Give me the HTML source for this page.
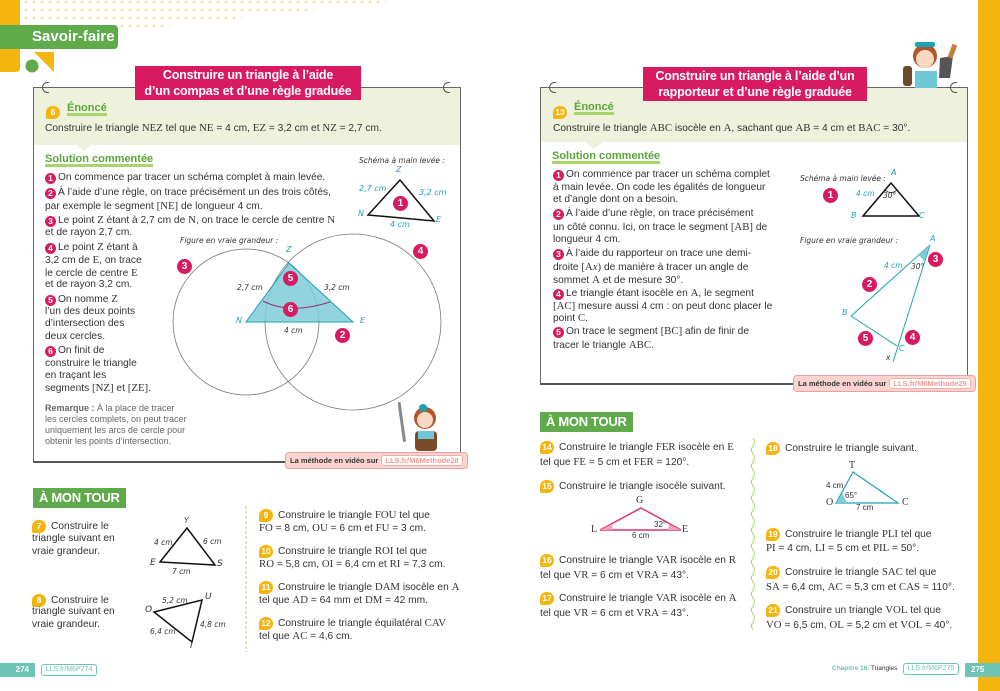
<!DOCTYPE html>
<html><head><meta charset="utf-8">
<style>
*{margin:0;padding:0;box-sizing:border-box}
body{width:1000px;height:691px;position:relative;background:#fff;overflow:hidden;font-family:"Liberation Sans",sans-serif;color:#333}
.a{position:absolute}
.t{position:absolute;font-size:10.2px;line-height:12px;white-space:nowrap;color:#333}
.m{font-family:"Liberation Serif",serif;font-size:10.8px}
.b{display:inline-block;width:11px;height:11px;border-radius:50%;background:#d81b60;color:#fff;font-size:8.5px;font-weight:bold;text-align:center;line-height:11px;vertical-align:-1px;margin-right:2px}
.bb{position:absolute;width:15px;height:15px;border-radius:50%;background:#d81b60;color:#fff;font-size:10px;font-weight:bold;text-align:center;line-height:15px}
.y{display:inline-block;min-width:14px;height:13px;padding:0 2px;border-radius:7px 7px 7px 2px;background:#f5b50f;color:#fff;font-size:8.5px;font-weight:bold;text-align:center;line-height:13px;margin-right:5px;vertical-align:0px}
.panel{position:absolute;border:1px solid #666;border-bottom:2px solid #555;background:#fff}
.top{position:absolute;left:0;right:0;top:0;background:#eef2dc}
.banner{position:absolute;background:#d81b60;color:#fff;font-weight:bold;font-size:12.5px;line-height:15.5px;text-align:center;padding-top:2px;white-space:nowrap;letter-spacing:-0.2px}
.en{position:absolute;color:#5aa63a;font-weight:bold;font-size:11px;border-bottom:3px solid #a9d46b;line-height:10px}
.sol{position:absolute;color:#5aa63a;font-weight:bold;font-size:11px;border-bottom:3px solid #a9d46b;line-height:10px}
.hand{position:absolute;font-style:italic;font-size:7.5px;color:#333;white-space:nowrap;font-family:"DejaVu Sans",sans-serif}
.cy{color:#1ba3b5;font-style:italic;font-size:8px;position:absolute;font-family:"DejaVu Sans",sans-serif}
.vid{position:absolute;background:#fbd3d0;border:1px solid #f0a09a;border-radius:4px;font-size:7.5px;font-weight:bold;color:#333;padding:3px 4px;white-space:nowrap}
.vid span{background:#fff;color:#f29a95;border:1px solid #f0b0aa;border-radius:3px;padding:0 3px;font-weight:bold;margin-left:3px}
.mt{position:absolute;background:#5faa4a;color:#fff;font-weight:bold;font-size:13px;line-height:20px;padding:0 6px;letter-spacing:-0.3px}
.lbl{position:absolute;font-size:7.5px;font-style:italic;font-family:"DejaVu Sans",sans-serif;color:#333}
.ring{position:absolute;width:7px;height:11px;border:1.5px solid #555;border-right:none;border-radius:6px 0 0 6px}
</style></head><body>

<div class="a" style="left:0;top:0;width:20px;height:72px;background:#f5b50f;border-radius:0 0 4px 0"></div>
<svg class="a" style="left:0;top:0" width="400" height="80">
<defs><pattern id="dt" width="8" height="8" patternUnits="userSpaceOnUse"><circle cx="2" cy="2" r="1" fill="#f7c54a"/></pattern></defs>
<polygon points="22,0 400,0 130,30 22,30" fill="url(#dt)"/>
<polygon points="34,52 54,52 54,72" fill="#f5b50f"/>
<circle cx="32" cy="66" r="6.5" fill="#5faa4a"/>
</svg>
<div class="a" style="left:0;top:25px;width:118px;height:24px;background:#5faa4a;border-radius:0 4px 4px 0;color:#fff;font-weight:bold;font-size:15px;line-height:24px;padding-left:32px">Savoir-faire</div>

<div class="a" style="left:978px;top:0;width:22px;height:691px;background:#f5b50f"></div>

<!-- LEFT PANEL -->
<div class="panel" style="left:33px;top:87px;width:428px;height:376px">
 <div class="top" style="height:57px"></div>
</div>
<svg class="a" style="left:60px;top:143px" width="40" height="10"><polygon points="14,0 34,0 24,8" fill="#eef2dc"/></svg>
<div class="ring" style="left:42px;top:82px"></div>
<div class="ring" style="left:443px;top:82px"></div>
<div class="banner" style="left:135px;top:66px;width:226px;height:34px">Construire un triangle à l’aide<br>d’un compas et d’une règle graduée</div>
<div class="a" style="left:46px;top:102px"><span class="y">6</span></div>
<div class="en" style="left:67px;top:103px">Énoncé</div>
<div class="t" style="left:45px;top:122px">Construire le triangle <span class="m">NEZ</span> tel que <span class="m">NE</span> = 4 cm, <span class="m">EZ</span> = 3,2 cm et <span class="m">NZ</span> = 2,7 cm.</div>
<div class="sol" style="left:45px;top:154px">Solution commentée</div>

<div class="t" style="left:45px;top:172px"><span class="b">1</span>On commence par tracer un schéma complet à main levée.</div>
<div class="t" style="left:45px;top:187px"><span class="b">2</span>À l’aide d’une règle, on trace précisément un des trois côtés,</div>
<div class="t" style="left:45px;top:200px">par exemple le segment <span class="m">[NE]</span> de longueur 4 cm.</div>
<div class="t" style="left:45px;top:214px"><span class="b">3</span>Le point <span class="m">Z</span> étant à 2,7 cm de <span class="m">N</span>, on trace le cercle de centre <span class="m">N</span></div>
<div class="t" style="left:45px;top:227px">et de rayon 2,7 cm.</div>
<div class="t" style="left:45px;top:241px"><span class="b">4</span>Le point <span class="m">Z</span> étant à</div>
<div class="t" style="left:45px;top:254px">3,2 cm de <span class="m">E</span>, on trace</div>
<div class="t" style="left:45px;top:267px">le cercle de centre <span class="m">E</span></div>
<div class="t" style="left:45px;top:279px">et de rayon 3,2 cm.</div>
<div class="t" style="left:45px;top:293px"><span class="b">5</span>On nomme <span class="m">Z</span></div>
<div class="t" style="left:45px;top:306px">l’un des deux points</div>
<div class="t" style="left:45px;top:318px">d’intersection des</div>
<div class="t" style="left:45px;top:331px">deux cercles.</div>
<div class="t" style="left:45px;top:345px"><span class="b">6</span>On finit de</div>
<div class="t" style="left:45px;top:358px">construire le triangle</div>
<div class="t" style="left:45px;top:370px">en traçant les</div>
<div class="t" style="left:45px;top:382px">segments <span class="m">[NZ]</span> et <span class="m">[ZE]</span>.</div>
<div class="t" style="left:45px;top:402px;font-size:9px;color:#666"><b>Remarque :</b> À la place de tracer</div>
<div class="t" style="left:45px;top:413px;font-size:9px;color:#666">les cercles complets, on peut tracer</div>
<div class="t" style="left:45px;top:424px;font-size:9px;color:#666">uniquement les arcs de cercle pour</div>
<div class="t" style="left:45px;top:435px;font-size:9px;color:#666">obtenir les points d’intersection.</div>

<div class="hand" style="left:359px;top:156px">Schéma à main levée :</div>
<svg class="a" style="left:0;top:0" width="500" height="480">
<polygon points="368,215 400,180 434,221" fill="none" stroke="#111" stroke-width="1.5"/>
<circle cx="246" cy="322" r="73" fill="none" stroke="#777" stroke-width="0.8"/>
<circle cx="353" cy="322" r="88" fill="none" stroke="#777" stroke-width="0.8"/>
<polygon points="246,322 353,322 289,263" fill="#7fcbd8" fill-opacity="0.85" stroke="#1ba3b5" stroke-width="1"/>
<path d="M263,301 Q290,315 330,302" fill="none" stroke="#9b2f7a" stroke-width="1"/>
</svg>
<div class="cy" style="left:396px;top:165px">Z</div>
<div class="cy" style="left:359px;top:184px">2,7 cm</div>
<div class="cy" style="left:419px;top:188px">3,2 cm</div>
<div class="cy" style="left:358px;top:209px">N</div>
<div class="cy" style="left:436px;top:215px">E</div>
<div class="cy" style="left:390px;top:220px">4 cm</div>
<div class="bb" style="left:393px;top:196px">1</div>
<div class="hand" style="left:180px;top:236px">Figure en vraie grandeur :</div>
<div class="cy" style="left:286px;top:245px">Z</div>
<div class="cy" style="left:236px;top:316px">N</div>
<div class="cy" style="left:360px;top:316px">E</div>
<div class="lbl" style="left:237px;top:283px">2,7 cm</div>
<div class="lbl" style="left:324px;top:283px">3,2 cm</div>
<div class="lbl" style="left:284px;top:326px">4 cm</div>
<div class="bb" style="left:177px;top:259px">3</div>
<div class="bb" style="left:413px;top:244px">4</div>
<div class="bb" style="left:283px;top:271px">5</div>
<div class="bb" style="left:283px;top:302px">6</div>
<div class="bb" style="left:335px;top:328px">2</div>
<svg class="a" style="left:398px;top:400px" width="55" height="55">
<rect x="2" y="2" width="3" height="40" fill="#888" transform="rotate(-8 3 20)"/>
<circle cx="27" cy="18" r="11" fill="#b0562c"/>
<circle cx="27" cy="20" r="8" fill="#f7d8c0"/>
<circle cx="25" cy="8" r="4" fill="#1ba3b5"/>
<rect x="17" y="31" width="22" height="20" rx="4" fill="#7a4a2a"/>
<rect x="20" y="31" width="16" height="8" fill="#6ec6d6"/>
</svg>
<div class="vid" style="left:285px;top:452px">La méthode en vidéo sur<span>LLS.fr/M6Methode28</span></div>

<div class="mt" style="left:33px;top:488px">À MON TOUR</div>
<div class="t" style="left:32px;top:520px"><span class="y">7</span>Construire le</div>
<div class="t" style="left:32px;top:533px">triangle suivant en</div>
<div class="t" style="left:32px;top:546px">vraie grandeur.</div>
<div class="t" style="left:32px;top:594px"><span class="y">8</span>Construire le</div>
<div class="t" style="left:32px;top:606px">triangle suivant en</div>
<div class="t" style="left:32px;top:619px">vraie grandeur.</div>
<svg class="a" style="left:0;top:480px" width="260" height="180">
<polygon points="187,48 160,82 215,85" fill="none" stroke="#111" stroke-width="1.5"/>
<polygon points="154,132 202,120 192,162" fill="none" stroke="#111" stroke-width="1.5"/>
<line x1="246" y1="26" x2="246" y2="172" stroke="#a9d46b" stroke-width="1" stroke-dasharray="3,2"/>
</svg>
<div class="lbl" style="left:184px;top:516px">Y</div>
<div class="lbl" style="left:154px;top:538px">4 cm</div>
<div class="lbl" style="left:203px;top:537px">6 cm</div>
<div class="lbl" style="left:150px;top:558px;font-size:9px">E</div>
<div class="lbl" style="left:217px;top:559px;font-size:9px">S</div>
<div class="lbl" style="left:172px;top:567px">7 cm</div>
<div class="lbl" style="left:162px;top:596px">5,2 cm</div>
<div class="lbl" style="left:205px;top:592px;font-size:9px">U</div>
<div class="lbl" style="left:145px;top:605px;font-size:9px">O</div>
<div class="lbl" style="left:200px;top:620px">4,8 cm</div>
<div class="lbl" style="left:150px;top:627px">6,4 cm</div>
<div class="lbl" style="left:190px;top:641px;font-size:9px">I</div>

<div class="t" style="left:259px;top:509px"><span class="y">9</span>Construire le triangle <span class="m">FOU</span> tel que</div>
<div class="t" style="left:259px;top:522px"><span class="m">FO</span> = 8 cm, <span class="m">OU</span> = 6 cm et <span class="m">FU</span> = 3 cm.</div>
<div class="t" style="left:259px;top:545px"><span class="y">10</span>Construire le triangle <span class="m">ROI</span> tel que</div>
<div class="t" style="left:259px;top:558px"><span class="m">RO</span> = 5,8 cm, <span class="m">OI</span> = 6,4 cm et <span class="m">RI</span> = 7,3 cm.</div>
<div class="t" style="left:259px;top:581px"><span class="y">11</span>Construire le triangle <span class="m">DAM</span> isocèle en <span class="m">A</span></div>
<div class="t" style="left:259px;top:594px">tel que <span class="m">AD</span> = 64 mm et <span class="m">DM</span> = 42 mm.</div>
<div class="t" style="left:259px;top:617px"><span class="y">12</span>Construire le triangle équilatéral <span class="m">CAV</span></div>
<div class="t" style="left:259px;top:630px">tel que <span class="m">AC</span> = 4,6 cm.</div>

<div class="a" style="left:0;top:663px;width:35px;height:14px;background:#6cc4b4;color:#fff;font-size:8px;font-weight:bold;line-height:14px;text-align:right;padding-right:6px">274</div>
<div class="a" style="left:41px;top:664px;width:56px;height:12px;border:1px solid #6cc4b4;border-radius:3px;color:#6cc4b4;font-size:7px;line-height:10px;text-align:center">LLS.fr/M6P274</div>

<!-- RIGHT PANEL -->
<div class="panel" style="left:540px;top:87px;width:428px;height:298px">
 <div class="top" style="height:54px"></div>
</div>
<svg class="a" style="left:570px;top:141px" width="40" height="10"><polygon points="14,0 34,0 24,8" fill="#eef2dc"/></svg>
<div class="ring" style="left:549px;top:82px"></div>
<div class="ring" style="left:950px;top:82px"></div>
<div class="banner" style="left:643px;top:67px;width:224px;height:34px">Construire un triangle à l’aide d’un<br>rapporteur et d’une règle graduée</div>
<svg class="a" style="left:895px;top:38px" width="70" height="50">
<circle cx="30" cy="18" r="12" fill="#b0562c"/>
<circle cx="30" cy="21" r="9" fill="#f7d8c0"/>
<rect x="20" y="4" width="20" height="5" rx="2" fill="#1ba3b5"/>
<rect x="20" y="33" width="22" height="17" fill="#6ec6d6"/>
<polygon points="45,20 58,18 55,40 44,40" fill="#555"/>
<rect x="55" y="6" width="5" height="14" fill="#c08040" transform="rotate(20 57 13)"/>
<rect x="8" y="28" width="9" height="20" rx="3" fill="#6a4a2a"/>
</svg>
<div class="a" style="left:553px;top:102px"><span class="y">13</span></div>
<div class="en" style="left:574px;top:102px">Énoncé</div>
<div class="t" style="left:553px;top:122px">Construire le triangle <span class="m">ABC</span> isocèle en <span class="m">A</span>, sachant que <span class="m">AB</span> = 4 cm et <span class="m">BAC</span> = 30°.</div>
<div class="sol" style="left:552px;top:151px">Solution commentée</div>
<div class="t" style="left:553px;top:169px"><span class="b">1</span>On commence par tracer un schéma complet</div>
<div class="t" style="left:553px;top:182px">à main levée. On code les égalités de longueur</div>
<div class="t" style="left:553px;top:194px">et d’angle dont on a besoin.</div>
<div class="t" style="left:553px;top:208px"><span class="b">2</span>À l’aide d’une règle, on trace précisément</div>
<div class="t" style="left:553px;top:221px">un côté connu. Ici, on trace le segment <span class="m">[AB]</span> de</div>
<div class="t" style="left:553px;top:234px">longueur 4 cm.</div>
<div class="t" style="left:553px;top:248px"><span class="b">3</span>À l’aide du rapporteur on trace une demi-</div>
<div class="t" style="left:553px;top:261px">droite <span class="m">[A<i>x</i>)</span> de manière à tracer un angle de</div>
<div class="t" style="left:553px;top:274px">sommet <span class="m">A</span> et de mesure 30°.</div>
<div class="t" style="left:553px;top:287px"><span class="b">4</span>Le triangle étant isocèle en <span class="m">A</span>, le segment</div>
<div class="t" style="left:553px;top:300px"><span class="m">[AC]</span> mesure aussi 4 cm : on peut donc placer le</div>
<div class="t" style="left:553px;top:312px">point <span class="m">C</span>.</div>
<div class="t" style="left:553px;top:325px"><span class="b">5</span>On trace le segment <span class="m">[BC]</span> afin de finir de</div>
<div class="t" style="left:553px;top:339px">tracer le triangle <span class="m">ABC</span>.</div>

<div class="hand" style="left:800px;top:174px">Schéma à main levée :</div>
<div class="hand" style="left:800px;top:236px">Figure en vraie grandeur :</div>
<svg class="a" style="left:780px;top:160px" width="200" height="220">
<polygon points="83,56 111,23 139,56" fill="none" stroke="#111" stroke-width="1.5"/>
<path d="M105,30 Q111,35 117,30" fill="none" stroke="#111" stroke-width="0.8"/>
<line x1="150" y1="85" x2="113" y2="202" stroke="#1ba3b5" stroke-width="1"/>
<line x1="150" y1="85" x2="71" y2="156" stroke="#1ba3b5" stroke-width="1"/>
<line x1="71" y1="156" x2="117" y2="186" stroke="#1ba3b5" stroke-width="1"/>
<path d="M150,85 L139,95 L144,101 Z" fill="#7fcbd8"/>
</svg>
<div class="cy" style="left:891px;top:168px">A</div>
<div class="cy" style="left:851px;top:211px">B</div>
<div class="cy" style="left:919px;top:211px">C</div>
<div class="cy" style="left:856px;top:189px;font-size:7.5px">4 cm</div>
<div class="lbl" style="left:883px;top:191px">30°</div>
<div class="bb" style="left:823px;top:188px">1</div>
<div class="cy" style="left:930px;top:234px">A</div>
<div class="cy" style="left:842px;top:308px">B</div>
<div class="cy" style="left:899px;top:344px">C</div>
<div class="lbl" style="left:884px;top:261px;color:#1ba3b5">4 cm</div>
<div class="lbl" style="left:911px;top:262px">30°</div>
<div class="lbl" style="left:886px;top:353px">x</div>
<div class="bb" style="left:928px;top:252px">3</div>
<div class="bb" style="left:862px;top:277px">2</div>
<div class="bb" style="left:858px;top:331px">5</div>
<div class="bb" style="left:905px;top:330px">4</div>
<div class="vid" style="left:793px;top:375px">La méthode en vidéo sur<span>LLS.fr/M6Methode29</span></div>

<div class="mt" style="left:540px;top:412px">À MON TOUR</div>
<svg class="a" style="left:748px;top:438px" width="12" height="195"><path d="M5,0 q3,4 0,8 q-3,4 0,8 q3,4 0,8 q-3,4 0,8 q3,4 0,8 q-3,4 0,8 q3,4 0,8 q-3,4 0,8 q3,4 0,8 q-3,4 0,8 q3,4 0,8 q-3,4 0,8 q3,4 0,8 q-3,4 0,8 q3,4 0,8 q-3,4 0,8 q3,4 0,8 q-3,4 0,8 q3,4 0,8 q-3,4 0,8 q3,4 0,8 q-3,4 0,8 q3,4 0,8 q-3,4 0,8" fill="none" stroke="#a9d46b" stroke-width="1"/></svg>
<div class="t" style="left:540px;top:441px"><span class="y">14</span>Construire le triangle <span class="m">FER</span> isocèle en <span class="m">E</span></div>
<div class="t" style="left:540px;top:456px">tel que <span class="m">FE</span> = 5 cm et <span class="m">FER</span> = 120°.</div>
<div class="t" style="left:540px;top:480px"><span class="y">15</span>Construire le triangle isocèle suivant.</div>
<svg class="a" style="left:590px;top:500px" width="100" height="40">
<polygon points="10,30 51,8 91,30" fill="none" stroke="#e0316f" stroke-width="1.5"/>
<path d="M10,30 L23,30 L22,24 Z" fill="#f4a0bc"/>
<path d="M91,30 L78,30 L79,24 Z" fill="#f4a0bc"/>
</svg>
<div class="m a" style="left:636px;top:495px;font-size:10px">G</div>
<div class="m a" style="left:591px;top:524px;font-size:10px">L</div>
<div class="m a" style="left:682px;top:524px;font-size:10px">E</div>
<div class="a" style="left:654px;top:520px;font-size:8px">32°</div>
<div class="a" style="left:632px;top:531px;font-size:8px">6 cm</div>
<div class="t" style="left:540px;top:554px"><span class="y">16</span>Construire le triangle <span class="m">VAR</span> isocèle en <span class="m">R</span></div>
<div class="t" style="left:540px;top:569px">tel que <span class="m">VR</span> = 6 cm et <span class="m">VRA</span> = 43°.</div>
<div class="t" style="left:540px;top:592px"><span class="y">17</span>Construire le triangle <span class="m">VAR</span> isocèle en <span class="m">A</span></div>
<div class="t" style="left:540px;top:607px">tel que <span class="m">VR</span> = 6 cm et <span class="m">VRA</span> = 43°.</div>

<div class="t" style="left:766px;top:442px"><span class="y">18</span>Construire le triangle suivant.</div>
<svg class="a" style="left:830px;top:465px" width="80" height="45">
<polygon points="6,38 23,7 68,38" fill="none" stroke="#1ba3b5" stroke-width="1.2"/>
<path d="M6,38 L17,38 L12,28 Z" fill="#7fcbd8"/>
</svg>
<div class="m a" style="left:849px;top:460px;font-size:10px">T</div>
<div class="m a" style="left:826px;top:497px;font-size:10px">O</div>
<div class="m a" style="left:902px;top:497px;font-size:10px">C</div>
<div class="a" style="left:826px;top:481px;font-size:8px">4 cm</div>
<div class="a" style="left:845px;top:491px;font-size:8px">65°</div>
<div class="a" style="left:856px;top:503px;font-size:8px">7 cm</div>
<div class="t" style="left:766px;top:528px"><span class="y">19</span>Construire le triangle <span class="m">PLI</span> tel que</div>
<div class="t" style="left:766px;top:542px"><span class="m">PI</span> = 4 cm, <span class="m">LI</span> = 5 cm et <span class="m">PIL</span> = 50°.</div>
<div class="t" style="left:766px;top:566px"><span class="y">20</span>Construire le triangle <span class="m">SAC</span> tel que</div>
<div class="t" style="left:766px;top:581px"><span class="m">SA</span> = 6,4 cm, <span class="m">AC</span> = 5,3 cm et <span class="m">CAS</span> = 110°.</div>
<div class="t" style="left:766px;top:604px"><span class="y">21</span>Construire un triangle <span class="m">VOL</span> tel que</div>
<div class="t" style="left:766px;top:619px"><span class="m">VO</span> = 6,5 cm, <span class="m">OL</span> = 5,2 cm et <span class="m">VOL</span> = 40°.</div>

<div class="a" style="left:832px;top:665px;font-size:6.5px;color:#333;white-space:nowrap"><b style="color:#6cc4b4">Chapitre 16.</b> Triangles</div>
<div class="a" style="left:903px;top:663px;width:56px;height:12px;border:1px solid #6cc4b4;border-radius:3px;color:#6cc4b4;font-size:7px;line-height:10px;text-align:center">LLS.fr/M6P275</div>
<div class="a" style="left:965px;top:663px;width:35px;height:14px;background:#6cc4b4;color:#fff;font-size:8px;font-weight:bold;line-height:14px;padding-left:6px">275</div>
</body></html>
